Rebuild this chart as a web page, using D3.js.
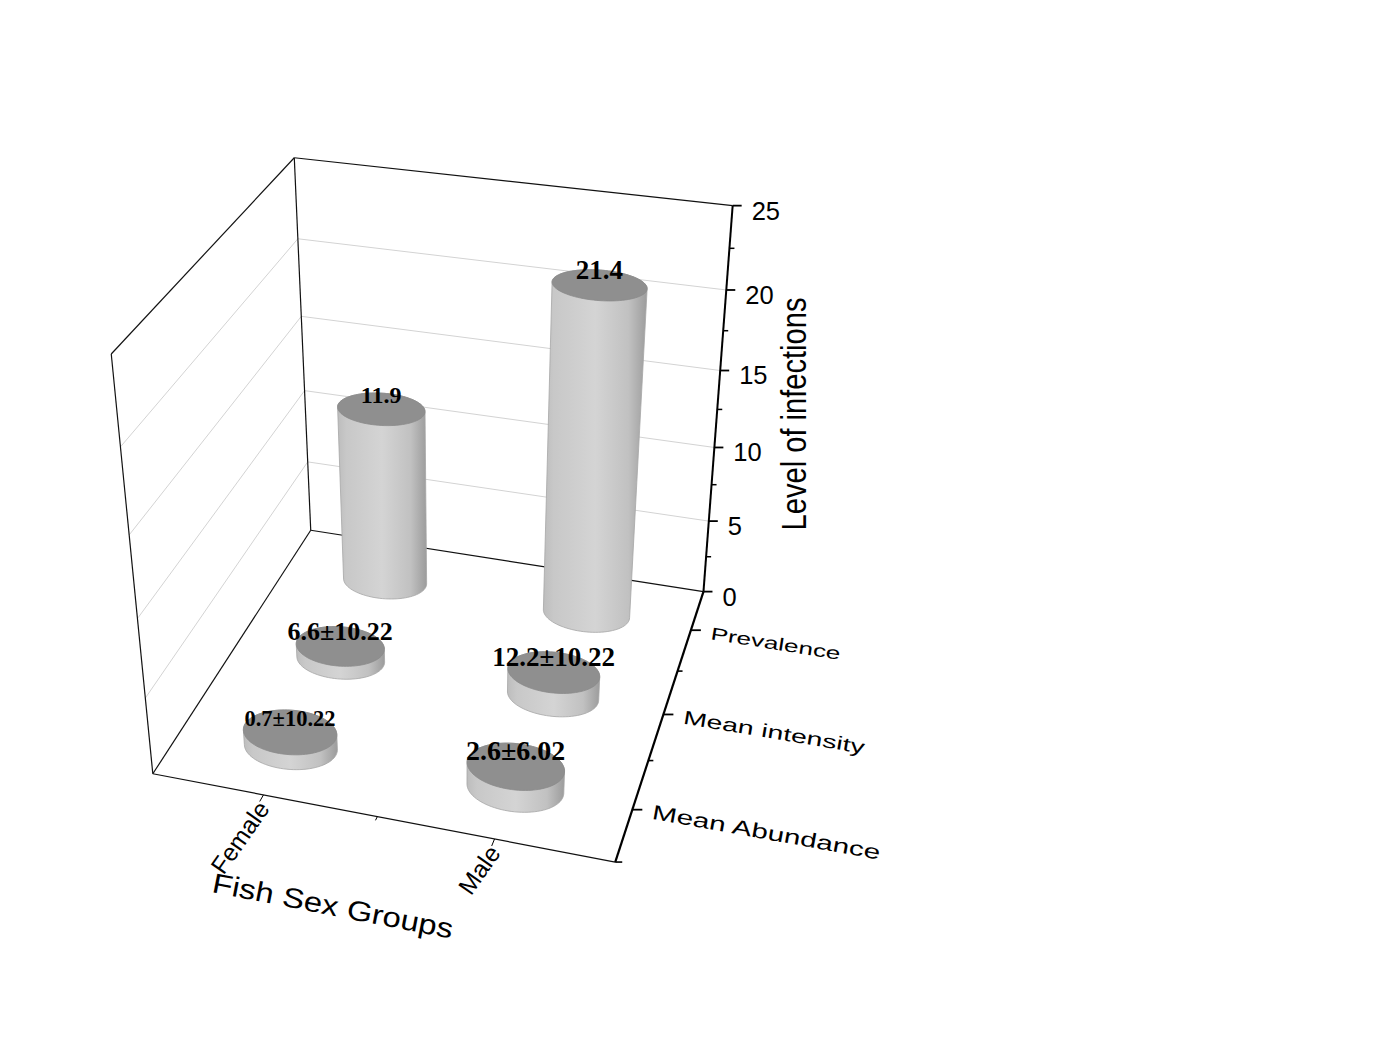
<!DOCTYPE html>
<html>
<head>
<meta charset="utf-8">
<script src="https://cdn.jsdelivr.net/npm/d3@7"></script>
<style>
  body { margin: 0; background: #fff; }
  svg { display: block; }
</style>
</head>
<body>
<script>
// ---- data ----
const sexGroups = ["Female", "Male"];
const measures = ["Prevalence", "Mean intensity", "Mean Abundance"];
const prevalence = [11.9, 21.4];
const meanIntensity = [0.9, 1.6];   // drawn heights of the short cylinders
const meanAbundance = [1.0, 1.45];
const prevalenceLabels = ["11.9", "21.4"];
const intensityLabels = ["6.6±10.22", "12.2±10.22"];
const abundanceLabels = ["0.7±10.22", "2.6±6.02"];
const zTicks = [0, 5, 10, 15, 20, 25];

const series = [prevalence, meanIntensity, meanAbundance];
const labels = [prevalenceLabels, intensityLabels, abundanceLabels];
const labelSize = [[24, 27], [26, 27], [22.5, 28]];
const measureSize = [17.5, 19, 20.5];
const measureStretch = [1.5, 1.5, 1.45];
const measureTilt = [9, 9.5, 10.2];

const width = 1386, height = 1062;

// screen position of the plot box (x: sex 0..1, y: measure depth 0..1, z: value 0..1)
// used to fit a perspective camera
const frameCorners = [
  [[0, 0, 0], [311, 529]], [[1, 0, 0], [703, 591]], [[1, 1, 0], [615, 860]], [[0, 1, 0], [153, 774]],
  [[0, 0, 1], [294, 158]], [[1, 0, 1], [733, 204]], [[0, 1, 1], [112, 354]],
  [[1, 0, 0.2], [708, 522]], [[1, 0, 0.4], [714, 448]], [[1, 0, 0.6], [720, 372]], [[1, 0, 0.8], [726, 290]],
  [[1, 1 / 6, 0], [692, 631]], [[1, 0.5, 0], [665, 714]], [[1, 5 / 6, 0], [633, 809]],
  [[0.25, 1, 0], [263, 795]], [[0.5, 1, 0], [377, 818]], [[0.75, 1, 0], [493, 840]]
];

// DLT least squares fit of a 3x4 projection
function solveCamera(pairs) {
  const rows = [], rhs = [];
  pairs.forEach(([[X, Y, Z], [u, v]]) => {
    u /= 1000; v /= 1000;
    rows.push([X, Y, Z, 1, 0, 0, 0, 0, -u * X, -u * Y, -u * Z]); rhs.push(u);
    rows.push([0, 0, 0, 0, X, Y, Z, 1, -v * X, -v * Y, -v * Z]); rhs.push(v);
  });
  const n = 11;
  const M = d3.range(n).map(i => d3.range(n + 1).map(j =>
    j < n ? d3.sum(rows, r => r[i] * r[j]) : d3.sum(rows, (r, k) => r[i] * rhs[k])));
  for (let c = 0; c < n; c++) {
    let piv = c;
    for (let r = c + 1; r < n; r++) if (Math.abs(M[r][c]) > Math.abs(M[piv][c])) piv = r;
    [M[c], M[piv]] = [M[piv], M[c]];
    for (let r = 0; r < n; r++) {
      if (r === c) continue;
      const f = M[r][c] / M[c][c];
      for (let k = c; k <= n; k++) M[r][k] -= f * M[c][k];
    }
  }
  return M.map((r, i) => r[n] / r[i]);
}
const cam = solveCamera(frameCorners);
function project(X, Y, Z) {
  const w = cam[8] * X + cam[9] * Y + cam[10] * Z + 1;
  return [1000 * (cam[0] * X + cam[1] * Y + cam[2] * Z + cam[3]) / w,
          1000 * (cam[4] * X + cam[5] * Y + cam[6] * Z + cam[7]) / w];
}

// scales
var x = d3.scaleBand().domain(sexGroups).range([0, 1]);
var depth = d3.scaleBand().domain(measures).range([0, 1]);
var z = d3.scaleLinear().domain([0, 25]).range([0, 1]);

const svg = d3.select("body").append("svg")
  .attr("width", width)
  .attr("height", height);

const grad = svg.append("defs").append("linearGradient")
  .attr("id", "side").attr("x1", 0).attr("x2", 1).attr("y1", 0).attr("y2", 0);
[[0, "#bdbdbd"], [0.1, "#c8c8c8"], [0.5, "#d4d4d4"], [0.82, "#c1c1c1"], [1, "#9c9c9c"]]
  .forEach(([o, c]) => grad.append("stop").attr("offset", o).attr("stop-color", c));

const line = d3.line();
function seg(g, a, b) {
  return g.append("path").attr("d", line([project(...a), project(...b)])).attr("fill", "none");
}

// gridlines on back and left walls
const grid = svg.append("g").attr("stroke", "#d3d3d3").attr("stroke-width", 1);
zTicks.filter(t => t > 0 && t < 25).forEach(t => {
  seg(grid, [0, 0, z(t)], [1, 0, z(t)]);
  seg(grid, [0, 0, z(t)], [0, 1, z(t)]);
});

// box edges
const box = svg.append("g").attr("stroke", "#111").attr("stroke-width", 1.2);
[[[0, 0, 1], [1, 0, 1]], [[0, 0, 1], [0, 1, 1]], [[0, 1, 1], [0, 1, 0]],
 [[0, 1, 0], [0, 0, 0]], [[0, 0, 0], [0, 0, 1]], [[0, 0, 0], [1, 0, 0]], [[0, 1, 0], [1, 1, 0]]]
  .forEach(([a, b]) => seg(box, a, b));

// value axis
const zAxis = svg.append("g").attr("font-family", "'Liberation Sans', Arial, sans-serif").attr("font-size", 25.5);
seg(zAxis, [1, 0, 0], [1, 0, 1]).attr("stroke", "#000").attr("stroke-width", 2);
zTicks.forEach(t => {
  const p = project(1, 0, z(t));
  zAxis.append("line").attr("x1", p[0]).attr("y1", p[1]).attr("x2", p[0] + 9).attr("y2", p[1])
    .attr("stroke", "#000").attr("stroke-width", 1.8);
  zAxis.append("text").attr("x", p[0] + 19).attr("y", p[1] + 5).attr("dy", "0.35em").text(t);
});
d3.range(2.5, 25, 5).forEach(t => {
  const p = project(1, 0, z(t));
  zAxis.append("line").attr("x1", p[0]).attr("y1", p[1]).attr("x2", p[0] + 5).attr("y2", p[1])
    .attr("stroke", "#000").attr("stroke-width", 1.5);
});
zAxis.append("text")
  .attr("transform", "translate(806,414) rotate(-90) scale(0.97,1.2)")
  .attr("text-anchor", "middle").attr("font-size", 30)
  .text("Level of infections");

// measure (depth) axis
const dAxis = svg.append("g").attr("font-family", "'Liberation Sans', Arial, sans-serif");
seg(dAxis, [1, 0, 0], [1, 1, 0]).attr("stroke", "#000").attr("stroke-width", 2.2);
measures.forEach((m, i) => {
  const p = project(1, depth(m) + depth.bandwidth() / 2, 0);
  dAxis.append("line").attr("x1", p[0]).attr("y1", p[1]).attr("x2", p[0] + 10).attr("y2", p[1])
    .attr("stroke", "#000").attr("stroke-width", 1.8);
  dAxis.append("text")
    .attr("transform", `translate(${p[0] + 19},${p[1] + 9}) rotate(${measureTilt[i]}) scale(${measureStretch[i]},1)`)
    .attr("font-size", measureSize[i])
    .text(m);
});
measures.slice(1).concat([null]).forEach(m => {
  const yv = m ? depth(m) : 1;
  const p = project(1, yv, 0);
  dAxis.append("line").attr("x1", p[0]).attr("y1", p[1]).attr("x2", p[0] + (m ? 5 : 7)).attr("y2", p[1])
    .attr("stroke", "#000").attr("stroke-width", 1.6);
});

// sex group axis (front edge)
const xAxis = svg.append("g").attr("font-family", "'Liberation Sans', Arial, sans-serif");
sexGroups.forEach(s => {
  const c = x(s) + x.bandwidth() / 2;
  seg(xAxis, [c, 1, 0], [c, 1.022, 0]).attr("stroke", "#000").attr("stroke-width", 1);
  const p = project(c, 1, 0);
  xAxis.append("text")
    .attr("transform", `translate(${p[0] + 7},${p[1] + 14}) rotate(-55)`)
    .attr("text-anchor", "end").attr("font-size", 24.5)
    .text(s);
});
seg(xAxis, [0.5, 1, 0], [0.5, 1.012, 0]).attr("stroke", "#000").attr("stroke-width", 1);
xAxis.append("text")
  .attr("transform", "translate(211,892) rotate(11) scale(1.24,1.05)")
  .attr("font-size", 26.5)
  .text("Fish Sex Groups");

// cylinders, back row first
const R_X = 0.103, R_Y = 0.075;
const bars = [];
measures.forEach((m, i) => sexGroups.forEach((s, j) =>
  bars.push({ measure: m, sex: s, value: series[i][j], label: labels[i][j], size: labelSize[i][j] })));

const ring = (cx, cy, h) => d3.range(90).map(k => {
  const a = k / 90 * 2 * Math.PI;
  return project(cx + R_X * Math.cos(a), cy + R_Y * Math.sin(a), h);
});

const cyl = svg.append("g").selectAll("g").data(bars).join("g");
cyl.each(function(d) {
  const g = d3.select(this);
  const cx = x(d.sex) + x.bandwidth() / 2;
  const cy = depth(d.measure) + depth.bandwidth() / 2;
  const bottom = ring(cx, cy, 0), top = ring(cx, cy, z(d.value));
  const hull = d3.polygonHull(bottom.concat(top));
  g.append("path").attr("d", "M" + hull.join("L") + "Z")
    .attr("fill", "url(#side)").attr("stroke", "#a6a6a6").attr("stroke-width", 0.8);
  g.append("path").attr("d", "M" + top.join("L") + "Z")
    .attr("fill", "#8f8f8f").attr("stroke", "#8a8a8a").attr("stroke-width", 0.8);
  const c = project(cx, cy, z(d.value));
  g.append("text")
    .attr("x", c[0]).attr("y", c[1] - 6)
    .attr("text-anchor", "middle")
    .attr("font-family", "'Liberation Serif', 'Times New Roman', serif")
    .attr("font-weight", "bold")
    .attr("font-size", d.size)
    .text(d.label);
});
</script>
</body>
</html>
